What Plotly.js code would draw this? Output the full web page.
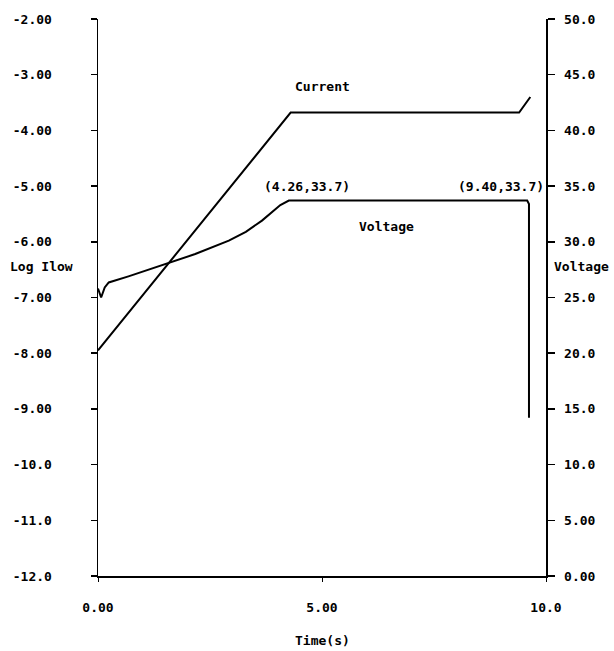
<!DOCTYPE html>
<html>
<head>
<meta charset="utf-8">
<script src="https://cdn.plot.ly/plotly-3.0.1.min.js"></script>
<style>html,body{margin:0;padding:0;background:#fff;}#chart{width:614px;height:651px;}</style>
</head>
<body>
<div id="chart"></div>
<script>
// Current (left axis, Log Ilow)
const timeCurrent = [0, 4.30, 9.40, 9.65];
const logIlow = [-7.95, -3.68, -3.68, -3.40];

// Voltage (right axis)
const timeVoltage = [0, 0.07, 0.15, 0.24, 0.68, 1.43, 1.69, 2.17, 2.92, 3.30, 3.66, 4.07, 4.26, 9.58, 9.62, 9.62];
const voltage = [25.8, 25.0, 25.9, 26.35, 26.9, 27.9, 28.3, 28.9, 30.1, 30.9, 31.9, 33.3, 33.7, 33.7, 33.4, 14.2];

const xTickVals = [0, 5, 10];
const xTickText = ["0.00", "5.00", "10.0"];
const yTickVals = [-2, -3, -4, -5, -6, -7, -8, -9, -10, -11, -12];
const yTickText = ["-2.00", "-3.00", "-4.00", "-5.00", "-6.00", "-7.00", "-8.00", "-9.00", "-10.0", "-11.0", "-12.0"];
const y2TickVals = [50, 45, 40, 35, 30, 25, 20, 15, 10, 5, 0];
const y2TickText = ["50.0", "45.0", "40.0", "35.0", "30.0", "25.0", "20.0", "15.0", "10.0", "5.00", "0.00"];

const FONT = {family: "DejaVu Sans Mono, monospace", size: 13, color: "#000", weight: "bold"};

const traces = [
  {x: timeCurrent, y: logIlow, type: "scatter", mode: "lines", yaxis: "y",
   line: {color: "#000", width: 2}, name: "Current", hoverinfo: "skip"},
  {x: timeVoltage, y: voltage, type: "scatter", mode: "lines", yaxis: "y2",
   line: {color: "#000", width: 2}, name: "Voltage", hoverinfo: "skip"}
];

const layout = {
  width: 614, height: 651,
  margin: {l: 98, r: 68, t: 19, b: 75},
  paper_bgcolor: "#fff", plot_bgcolor: "#fff",
  showlegend: false,
  font: FONT,
  xaxis: {
    range: [0, 10], tickvals: xTickVals, ticktext: xTickText,
    showgrid: false, zeroline: false, showline: true, linewidth: 2, linecolor: "#000",
    ticks: "outside", ticklen: 4, tickcolor: "#000", tickfont: FONT,
    ticklabelstandoff: 14
  },
  yaxis: {
    range: [-12, -2], tickvals: yTickVals, ticktext: yTickText,
    showgrid: false, zeroline: false, showline: true, linewidth: 1.5, linecolor: "#000",
    ticks: "outside", ticklen: 6, tickcolor: "#000", tickwidth: 1.5, tickfont: FONT,
    ticklabelstandoff: 36
  },
  yaxis2: {
    range: [0, 50], tickvals: y2TickVals, ticktext: y2TickText,
    overlaying: "y", side: "right",
    showgrid: false, zeroline: false, showline: true, linewidth: 1.5, linecolor: "#000",
    ticks: "outside", ticklen: 7, tickcolor: "#000", tickwidth: 1.5, tickfont: FONT,
    ticklabelstandoff: 7
  },
  annotations: [
    {text: "Current", x: 5.0, y: -3.22, xref: "x", yref: "y", showarrow: false, font: FONT},
    {text: "(4.26,33.7)", x: 4.67, y: 35.0, xref: "x", yref: "y2", showarrow: false, font: FONT},
    {text: "(9.40,33.7)", x: 9.0, y: 35.0, xref: "x", yref: "y2", showarrow: false, font: FONT},
    {text: "Voltage", x: 6.43, y: 31.4, xref: "x", yref: "y2", showarrow: false, font: FONT},
    {text: "Log Ilow", x: -0.2009, y: 0.5548, xref: "paper", yref: "paper", xanchor: "left", yanchor: "middle", showarrow: false, font: FONT},
    {text: "Voltage", x: 1.0134, y: 0.5548, xref: "paper", yref: "paper", xanchor: "left", yanchor: "middle", showarrow: false, font: FONT},
    {text: "Time(s)", x: 0.5, y: -0.115, xref: "paper", yref: "paper", xanchor: "center", yanchor: "middle", showarrow: false, font: FONT}
  ]
};

Plotly.newPlot("chart", traces, layout, {staticPlot: true, displayModeBar: false});
</script>
</body>
</html>
